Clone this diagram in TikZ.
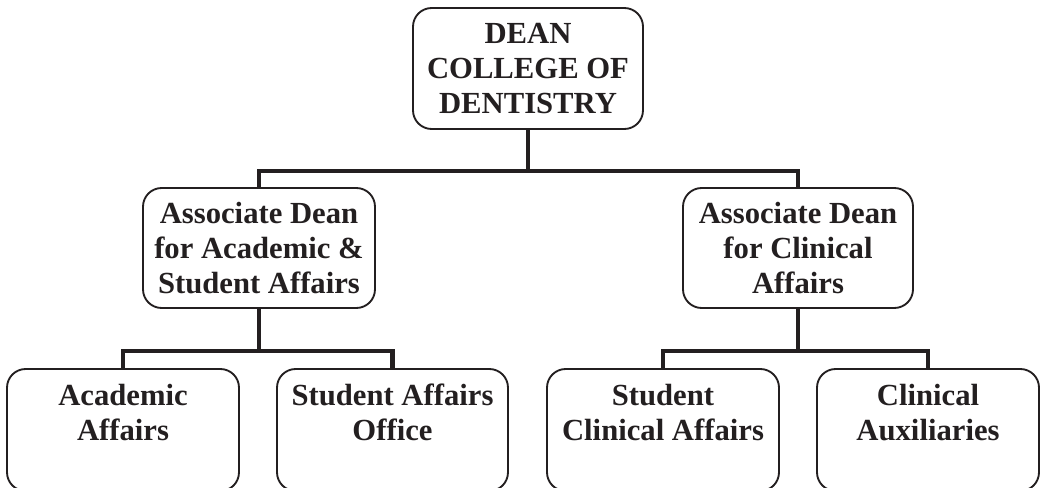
\documentclass[tikz,border=0pt]{standalone}
\usepackage{fontspec}
\setmainfont{Liberation Serif}
\usepackage{tikz}
\usetikzlibrary{positioning,calc}
\definecolor{inkcol}{HTML}{231F20}

\begin{document}
\begin{tikzpicture}[x=0.75pt, y=-0.75pt,
  unit/.style={draw=inkcol, line width=1.4pt, rounded corners=14pt, align=center,
    text=inkcol, font=\bfseries\fontsize{23}{26.25}\selectfont, inner sep=0pt},
  link/.style={draw=inkcol, line width=3.6pt, line join=miter}]
\useasboundingbox (0,0) rectangle (1040,488);
\clip (0,0) rectangle (1040,488);

% dean
\node[unit, minimum width=172.5pt, minimum height=90.75pt] (dean) at (528,68.5) {DEAN\\COLLEGE OF\\DENTISTRY};

% associate deans
\node[unit, minimum width=174pt, minimum height=90pt] (acad) at (259,248) {Associate Dean\\for Academic \&\\Student Affairs};
\node[unit, minimum width=172.5pt, minimum height=90pt] (clin) at (798,248) {Associate Dean\\for Clinical\\Affairs};

% offices, boxes run off the bottom edge
\node[unit, minimum width=174pt, minimum height=91.5pt] (acadoff) at (123,430) {Academic\\Affairs\\\mbox{}};
\node[unit, minimum width=173.25pt, minimum height=91.5pt] (studoff) at (392.5,430) {Student Affairs\\Office\\\mbox{}};
\node[unit, minimum width=174pt, minimum height=91.5pt] (studclin) at (663,430) {Student\\Clinical Affairs\\\mbox{}};
\node[unit, minimum width=166.5pt, minimum height=91.5pt] (aux) at (928,430) {Clinical\\Auxiliaries\\\mbox{}};

% connectors
\coordinate (deanbar) at (528,171);
\coordinate (acadbar) at (259,351);
\coordinate (clinbar) at (798,351);
\draw[link] (dean.south) -- (deanbar);
\draw[link] (acad.north) |- (deanbar) -| (clin.north);
\draw[link] (acad.south) -- (acadbar);
\draw[link] (acadoff.north) |- (acadbar) -| (studoff.north);
\draw[link] (clin.south) -- (clinbar);
\draw[link] (studclin.north) |- (clinbar) -| (aux.north);
\end{tikzpicture}
\end{document}
